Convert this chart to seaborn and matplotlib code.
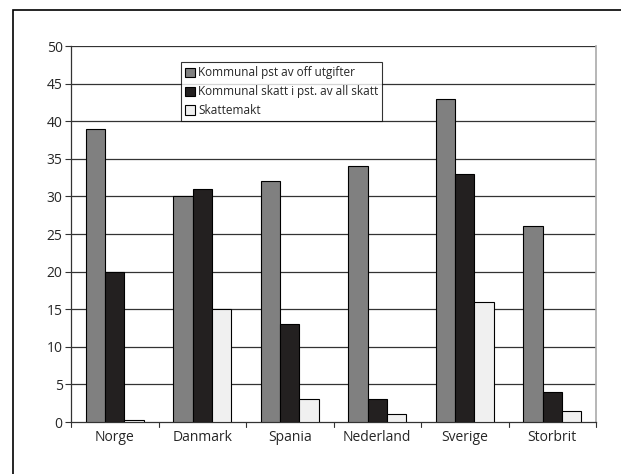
import matplotlib
matplotlib.use("Agg")
import matplotlib.pyplot as plt
import matplotlib.patches as mpatches
import seaborn as sns
import pandas as pd

land = ["Norge", "Danmark", "Spania", "Nederland", "Sverige", "Storbrit"]
offentlige_utgifter = [39, 30, 32, 34, 43, 26]
kommunal_skatt = [20, 31, 13, 3, 33, 4]
skattemakt = [0.3, 15, 3, 1, 16, 1.4]
serier = ["Kommunal pst av off utgifter",
          "Kommunal skatt i pst. av all skatt",
          "Skattemakt"]
farger = ["#808080", "#231f20", "#f0f0f0"]
y_ticks = [0, 5, 10, 15, 20, 25, 30, 35, 40, 45, 50]

df = pd.DataFrame({
    "land": land * 3,
    "serie": [serier[0]] * 6 + [serier[1]] * 6 + [serier[2]] * 6,
    "verdi": offentlige_utgifter + kommunal_skatt + skattemakt,
})

sns.set_style("white")
plt.rcParams["font.family"] = ["Open Sans", "DejaVu Sans"]

fig = plt.figure(figsize=(6.21, 4.74), dpi=100)
fig.patches.append(mpatches.Rectangle((13 / 621, -0.1), 1.2, 1 - 10 / 474 + 0.1,
                                      transform=fig.transFigure, fill=False,
                                      edgecolor="black", linewidth=1.2, zorder=0))
ax = fig.add_axes([71 / 621, 1 - 422 / 474, 525 / 621, 376 / 474])

sns.barplot(data=df, x="land", y="verdi", hue="serie", palette=farger,
            width=0.66, edgecolor="black", linewidth=0.8, ax=ax, zorder=3)

ax.set_ylim(0, 50)
ax.set_xlim(-0.5, 5.5)
ax.set_yticks(y_ticks)
ax.set_yticklabels([str(v) for v in y_ticks], fontsize=10)
for v in y_ticks[1:]:
    ax.axhline(v, color="#333333", linewidth=0.9, zorder=1)

ax.set_xticks(range(len(land)))
ax.set_xticklabels(land, fontsize=10)
ax.tick_params(axis="x", length=0, pad=6)
ax.tick_params(axis="y", left=True, length=4, width=0.8, color="#333333", pad=2)
for b in [i - 0.5 for i in range(len(land) + 1)]:
    ax.plot([b, b], [0, -0.012], transform=ax.get_xaxis_transform(),
            color="#333333", linewidth=0.8, clip_on=False)

ax.set_xlabel("")
ax.set_ylabel("")
for side in ["left", "bottom"]:
    ax.spines[side].set_color("#333333")
    ax.spines[side].set_linewidth(0.9)
ax.spines["top"].set_visible(False)
ax.spines["right"].set_color("#aaaaaa")
ax.spines["right"].set_linewidth(1.2)

leg = ax.legend(loc="upper left", bbox_to_anchor=(0.2095, 0.957), fontsize=8.5,
                frameon=True, fancybox=False, edgecolor="black",
                handlelength=0.8, handleheight=0.8, handletextpad=0.3,
                borderpad=0.35, labelspacing=0.5, borderaxespad=0)
leg.get_frame().set_linewidth(0.8)
leg.set_zorder(5)

fig.savefig("out.png", dpi=100)
